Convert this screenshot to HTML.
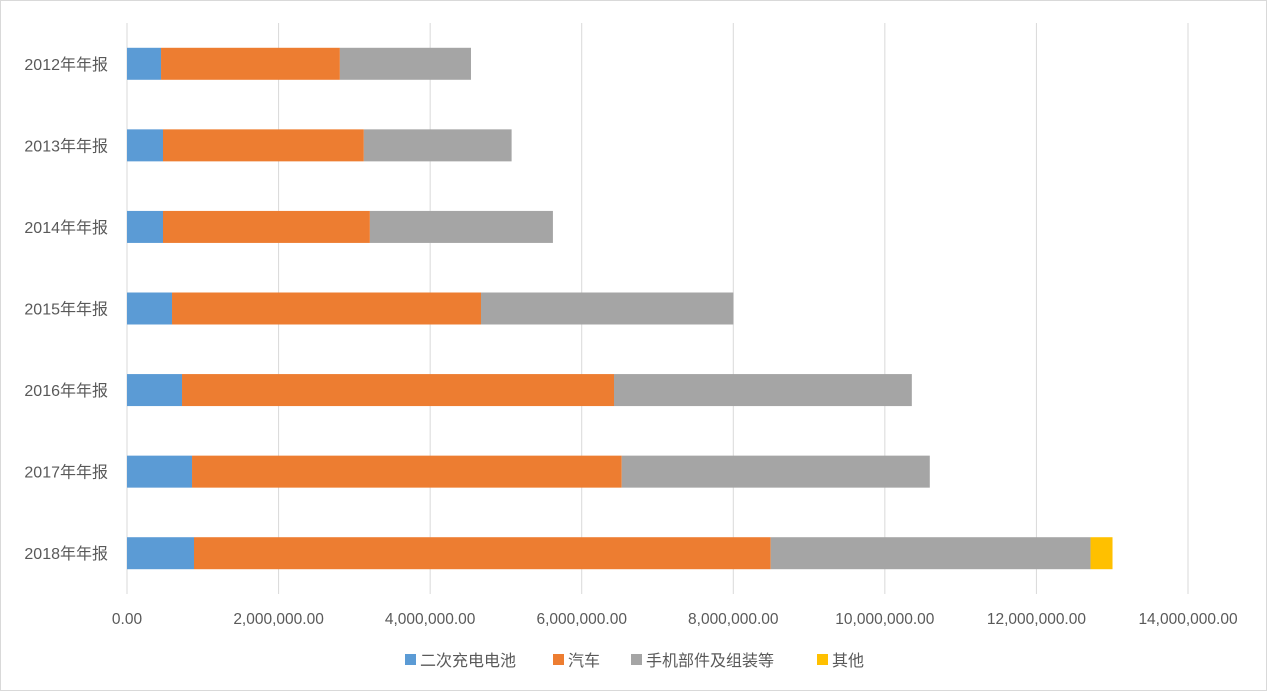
<!DOCTYPE html>
<html><head><meta charset="utf-8">
<style>
html,body{margin:0;padding:0;background:#fff;}
svg{display:block;font-family:"Liberation Sans","Noto Sans CJK SC",sans-serif;}
</style></head>
<body>
<svg id="chart" width="1267" height="691" viewBox="0 0 1267 691">
<rect x="0.5" y="0.5" width="1266" height="690" fill="#fff" stroke="#d9d9d9"/>
<g id="grid"></g>
<g id="bars"></g>
<g id="ylabels"></g>
<g id="xlabels"></g>
<g id="legend"></g>
</svg>
<script>
const categories = ["2012年年报","2013年年报","2014年年报","2015年年报","2016年年报","2017年年报","2018年年报"];
const seriesNames = ["二次充电电池","汽车","手机部件及组装等","其他"];
const battery = [449000,475000,475000,594000,726000,858000,884000];
const auto = [2360000,2650000,2730000,4077000,5700000,5670000,7610000];
const phone = [1730000,1950000,2415000,3330000,3930000,4065000,4220000];
const other = [0,0,0,0,0,0,290000];
const xTicks = [0,2000000,4000000,6000000,8000000,10000000,12000000,14000000];
const xTickLabels = ["0.00","2,000,000.00","4,000,000.00","6,000,000.00","8,000,000.00","10,000,000.00","12,000,000.00","14,000,000.00"];

const colors = ["#5b9bd5","#ed7d31","#a5a5a5","#ffc000"];
const NS = "http://www.w3.org/2000/svg";
const x0 = 127, x1 = 1188, yTop = 23, yBot = 594;
const xMax = 14000000;
function xs(v){ return x0 + v / xMax * (x1 - x0); }
const band = (yBot - yTop) / categories.length;
function yc(i){ return yTop + band * (i + 0.5); }
const barH = 32;
function mk(tag, attrs, parent){ const e = document.createElementNS(NS, tag); for (const k in attrs) e.setAttribute(k, attrs[k]); parent.appendChild(e); return e; }

const grid = document.getElementById('grid');
const xl = document.getElementById('xlabels');
xTicks.forEach((t, i) => {
  const l = mk('line', {x1: xs(t), x2: xs(t), y1: yTop, y2: yBot, stroke: '#d9d9d9', 'stroke-width': 1}, grid);
  
  
  const tx = mk('text', {x: xs(t), y: 624, 'text-anchor': 'middle', 'font-size': 15.5, fill: '#595959'}, xl);
  tx.textContent = xTickLabels[i];
  
  
});

const bars = document.getElementById('bars');
const yl = document.getElementById('ylabels');
const all = [battery, auto, phone, other];
categories.forEach((c, i) => {
  let cum = 0;
  all.forEach((s, k) => {
    const v = s[i];
    if (v > 0) {
      const r = mk('rect', {x: xs(cum), y: yc(i) - barH / 2, width: xs(cum + v) - xs(cum), height: barH, fill: colors[k]}, bars);
      
      
    }
    cum += v;
  });
  const t = mk('text', {x: 108, y: yc(i) + 6, 'text-anchor': 'end', 'font-size': 16, fill: '#595959'}, yl);
  t.textContent = c;
  
  
});

const lg = document.getElementById('legend');
const legendX = [405, 553, 631, 817];
seriesNames.forEach((n, k) => {
  const g = mk('g', {}, lg);
  
  
  mk('rect', {x: legendX[k], y: 654, width: 11, height: 11, fill: colors[k]}, g);
  const t = mk('text', {x: legendX[k] + 15, y: 666, 'font-size': 16, fill: '#595959'}, g);
  t.textContent = n;
});
</script>
</body></html>
